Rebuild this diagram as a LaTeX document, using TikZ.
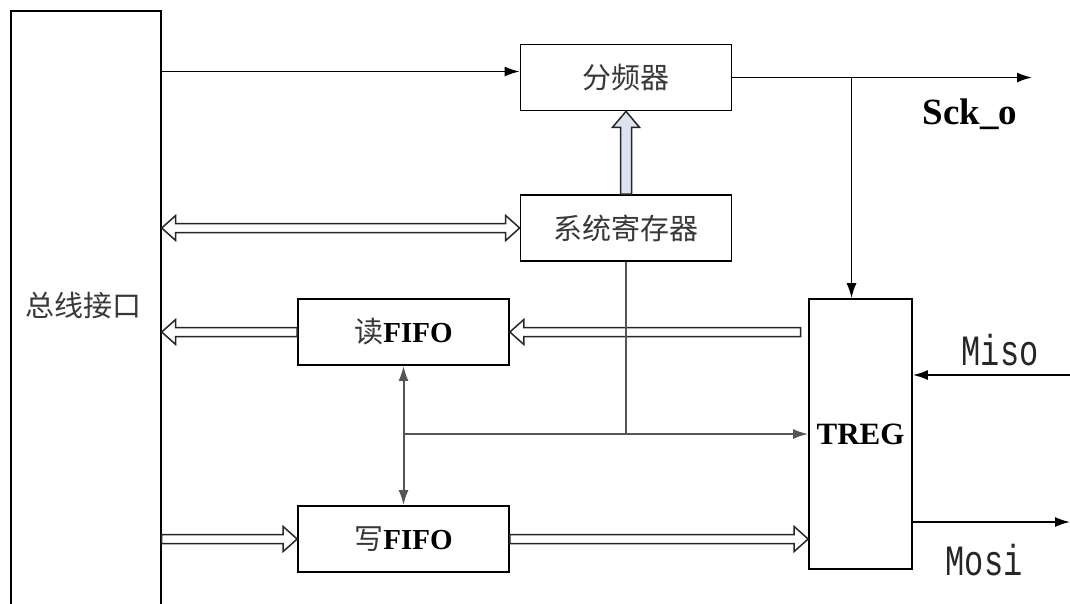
\documentclass[tikz,border=0pt]{standalone}
\usepackage{fontspec}
\setmainfont{Liberation Serif}
\setmonofont{Liberation Mono}
\newfontfamily\cjk{Noto Sans CJK SC}
\usetikzlibrary{arrows.meta,calc}
\definecolor{cjkgray}{HTML}{383838}
\definecolor{linegray}{HTML}{555555}
\definecolor{upfill}{HTML}{DCE2EE}
\tikzset{
  box/.style={draw=black, line width=1.7pt, minimum width=211pt, minimum height=66pt, inner sep=0pt, font=\fontsize{29}{30}\selectfont},
  fatline/.style={draw=black!85, line width=1.5pt, line join=miter},
  sline/.style={draw=black, line width=1.7pt},
  gline/.style={draw=linegray, line width=2pt},
  tip/.style={-{Latex[length=15pt,width=10pt]}},
  dtip/.style={{Latex[length=15pt,width=10pt]}-{Latex[length=15pt,width=10pt]}},
  cjklbl/.style={font=\cjk\fontsize{29}{30}\selectfont, text=cjkgray, inner sep=0pt},
  monolbl/.style={font=\ttfamily\fontsize{32}{34}\selectfont, text=black!85, inner sep=0pt, anchor=base},
}
\newcommand\fatarrow[6][white]{%
  \path (#2) coordinate (fa-a) (#3) coordinate (fa-b);
  \path ($(fa-b)!#6!(fa-a)$) coordinate (fa-h);
  \draw[fatline, fill=#1] ($(fa-a)!#4!90:(fa-b)$) -- ($(fa-h)!#4!-90:(fa-a)$) -- ($(fa-h)!#5!-90:(fa-a)$) -- (fa-b) -- ($(fa-h)!#5!90:(fa-a)$) -- ($(fa-h)!#4!90:(fa-a)$) -- ($(fa-a)!#4!-90:(fa-b)$) -- cycle;
}
\newcommand\fatdarrow[5]{%
  \path (#1) coordinate (fa-a) (#2) coordinate (fa-b);
  \path ($(fa-b)!#5!(fa-a)$) coordinate (fa-h) ($(fa-a)!#5!(fa-b)$) coordinate (fa-g);
  \draw[fatline, fill=white] (fa-a) -- ($(fa-g)!#4!90:(fa-b)$) -- ($(fa-g)!#3!90:(fa-b)$) -- ($(fa-h)!#3!-90:(fa-a)$) -- ($(fa-h)!#4!-90:(fa-a)$) -- (fa-b) -- ($(fa-h)!#4!90:(fa-a)$) -- ($(fa-h)!#3!90:(fa-a)$) -- ($(fa-g)!#3!-90:(fa-b)$) -- ($(fa-g)!#4!-90:(fa-b)$) -- cycle;
}
\begin{document}
\begin{tikzpicture}[x=1pt,y=-1pt]
\useasboundingbox (0,0) rectangle (1070,603);
% blocks
\node[box, minimum width=150pt, minimum height=630pt, anchor=north west] (bus) at (10,10) {};
\node[cjklbl] (bustext) at (83,305) {总线接口};
\node[box] (fd) at (626,77.5) {\cjk\color{cjkgray}分频器};
\node[box] (sreg) at (626,228) {\cjk\color{cjkgray}系统寄存器};
\node[box] (rf) at (403.5,332) {{\cjk\color{cjkgray}读}\textbf{FIFO}};
\node[box] (wf) at (403.5,539) {{\cjk\color{cjkgray}写}\textbf{FIFO}};
\node[box, minimum width=103pt, minimum height=270pt, font=\fontsize{31}{32}\selectfont] (treg) at (860.5,434) {\textbf{TREG}};
% named free ends
\coordinate (c1) at ([yshift=6pt]fd.west);
\coordinate (scko) at (1032,77.5);
\coordinate (j1) at (851.5,77.5);
\coordinate (tw) at ([xshift=-7.5pt]treg.west);
\coordinate (miso) at (1070,375);
\coordinate (mosi) at (1070,522);
% thin connectors
\draw[sline, tip] (bus.east |- c1) -- (c1);
\draw[sline, tip] (fd.east) -- (scko);
\draw[sline, tip] (j1) -- (j1 |- treg.north);
\draw[sline, tip] (miso) -- (treg.east |- miso);
\draw[sline, tip] (treg.east |- mosi) -- (mosi);
% fat arrows
\fatdarrow{bus.east |- sreg.west}{sreg.west}{4.5pt}{12.5pt}{14pt}
\fatarrow[upfill]{sreg.north}{fd.south}{5.5pt}{13.5pt}{16pt}
\fatarrow{rf.west}{bus.east |- rf.west}{4.5pt}{12.5pt}{14pt}
\fatarrow{tw |- rf.east}{rf.east}{4.5pt}{12.5pt}{14pt}
\fatarrow{bus.east |- wf.west}{wf.west}{4.5pt}{12.5pt}{14pt}
\fatarrow{wf.east}{treg.west |- wf.east}{4.5pt}{12.5pt}{14pt}
% gray connectors
\draw[gline, dtip] (rf.south) -- (wf.north);
\draw[gline] (sreg.south) -- (sreg.south |- treg.west);
\draw[gline, tip] (rf.south |- treg.west) -- (treg.west);
% labels
\node[font=\bfseries\fontsize{37}{40}\selectfont, anchor=base, inner sep=0pt] (sckl) at (970,124) {Sck\_o};
\node[monolbl] (misol) at (1000,365) {\scalebox{1}[1.35]{Miso}};
\node[monolbl] (mosil) at (984,575) {\scalebox{1}[1.35]{Mosi}};
\end{tikzpicture}
\end{document}
